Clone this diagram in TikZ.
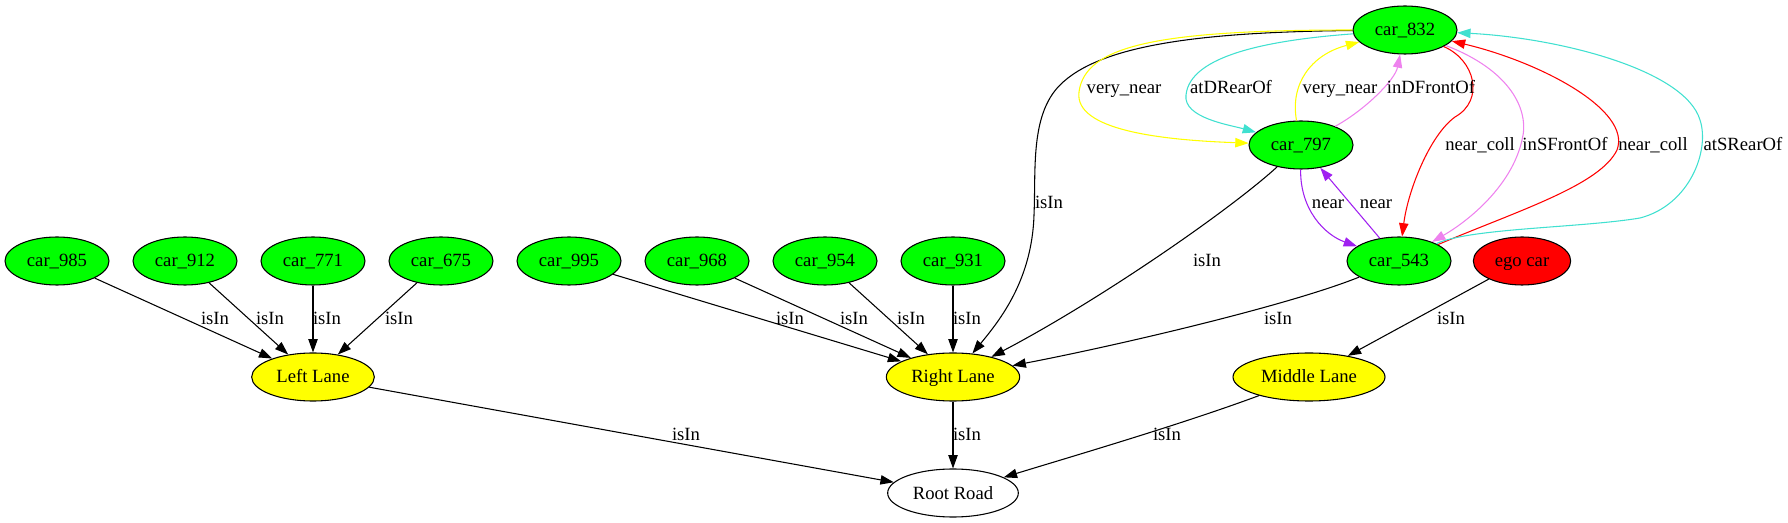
\documentclass[tikz,border=0pt]{standalone}
\usepackage{fontspec}
\setmainfont{Liberation Serif}
\usetikzlibrary{shapes.geometric,arrows.meta}
\definecolor{gvgreen}{HTML}{00FF00}
\definecolor{gvyellow}{HTML}{FFFF00}
\definecolor{gvred}{HTML}{FF0000}
\definecolor{gvturq}{HTML}{40E0D0}
\definecolor{gvviolet}{HTML}{EE82EE}
\definecolor{gvpurple}{HTML}{A020F0}
\begin{document}
\begin{tikzpicture}[x=0.75pt,y=-0.75pt,
  every node/.style={font=\fontsize{14pt}{16pt}\selectfont},
  gvnode/.style={ellipse, draw=black, line width=0.8pt, inner sep=0pt, minimum height=36pt, text height=10pt, text depth=1pt},
  car/.style={gvnode, fill=gvgreen, minimum width=78pt},
  lane/.style={gvnode, fill=gvyellow},
  e/.style={line width=0.8pt, -{Triangle[length=10pt,width=7pt]}},
  lbl/.style={anchor=base, inner sep=0pt}
]
\useasboundingbox (0,0) rectangle (1788,523);
% nodes
\node[car] (c832) at (1405,30) {car\_832};
\node[car] (c797) at (1301,145) {car\_797};
\node[car] (c543) at (1399,261) {car\_543};
\node[gvnode, fill=gvred, minimum width=73pt] (ego) at (1522,261) {ego car};
\node[car] (c985) at (57,261) {car\_985};
\node[car] (c912) at (185,261) {car\_912};
\node[car] (c771) at (313,261) {car\_771};
\node[car] (c675) at (441,261) {car\_675};
\node[car] (c995) at (569,261) {car\_995};
\node[car] (c968) at (697,261) {car\_968};
\node[car] (c954) at (825,261) {car\_954};
\node[car] (c931) at (953,261) {car\_931};
\node[lane, minimum width=92pt] (ll) at (313,377) {Left Lane};
\node[lane, minimum width=100pt] (rl) at (953,377) {Right Lane};
\node[lane, minimum width=114pt] (ml) at (1309,377) {Middle Lane};
\node[gvnode, fill=white, minimum width=98pt] (rr) at (953,493) {Root Road};

% straight isIn edges
\draw[e] (c985) -- (ll);
\draw[e] (c912) -- (ll);
\draw[e] (c771) -- (ll);
\draw[e] (c675) -- (ll);
\draw[e] (c995) -- (rl);
\draw[e] (c968) -- (rl);
\draw[e] (c954) -- (rl);
\draw[e] (c931) -- (rl);
\draw[e] (ego) -- (ml);
\draw[e] (ll) -- (rr);
\draw[e] (rl) -- (rr);
\draw[e] (ml) .. controls (1180,425) and (1060,460) .. (rr);

% curved isIn edges
\draw[e] (c832) .. controls (1200,32) and (1100,45) .. (1060,85)
  .. controls (1030,115) and (1036,170) .. (1034,215)
  .. controls (1032,280) and (1000,320) .. (rl);
\draw[e] (c797) .. controls (1230,210) and (1100,300) .. (rl);
\draw[e] (c543) .. controls (1290,305) and (1120,345) .. (rl);

% relation edges
\draw[e, gvyellow] (c832) .. controls (1160,30) and (1085,45) .. (1079,92)
  .. controls (1074,130) and (1160,140) .. (c797);
\draw[e, gvturq] (c832) .. controls (1270,40) and (1190,55) .. (1186,95)
  .. controls (1183,118) and (1230,125) .. (c797);
\draw[e, gvyellow] (c797) .. controls (1290,85) and (1310,55) .. (c832);
\draw[e, gvviolet] (c797) .. controls (1365,110) and (1395,80) .. (c832);
\draw[e, gvpurple] (c797) .. controls (1300,210) and (1325,235) .. (c543);
\draw[e, gvpurple] (c543) -- (c797);
\draw[e, gvred] (c832) .. controls (1475,60) and (1485,100) .. (1455,117)
  .. controls (1430,135) and (1408,190) .. (c543);
\draw[e, gvviolet] (c832) .. controls (1510,70) and (1530,110) .. (1522,140)
  .. controls (1512,185) and (1470,220) .. (c543);
\draw[e, gvred] (c543) .. controls (1520,210) and (1600,185) .. (1617,150)
  .. controls (1632,110) and (1540,62) .. (c832);
\draw[e, gvturq] (c543) .. controls (1470,228) and (1580,228) .. (1640,218)
  .. controls (1690,205) and (1710,150) .. (1700,120)
  .. controls (1685,70) and (1560,38) .. (c832);

% labels (baseline = visual centre + 7)
\node[lbl] (l1) at (1124,94) {very\_near};
\node[lbl] (l2) at (1231,94) {atDRearOf};
\node[lbl] (l3) at (1340,94) {very\_near};
\node[lbl] (l4) at (1431,94) {inDFrontOf};
\node[lbl] (l5) at (1049,209) {isIn};
\node[lbl] (l6) at (1328,209) {near};
\node[lbl] (l7) at (1376,209) {near};
\node[lbl] (l8) at (1480,151) {near\_coll};
\node[lbl] (l9) at (1565,151) {inSFrontOf};
\node[lbl] (l10) at (1653,151) {near\_coll};
\node[lbl] (l11) at (1743,151) {atSRearOf};
\node[lbl] (l12) at (1207,267) {isIn};
\node[lbl] (l13) at (215,325) {isIn};
\node[lbl] (l14) at (270,325) {isIn};
\node[lbl] (l15) at (327,325) {isIn};
\node[lbl] (l16) at (399,325) {isIn};
\node[lbl] (l17) at (790,325) {isIn};
\node[lbl] (l18) at (854,325) {isIn};
\node[lbl] (l19) at (911,325) {isIn};
\node[lbl] (l20) at (967,325) {isIn};
\node[lbl] (l21) at (1278,325) {isIn};
\node[lbl] (l22) at (1451,325) {isIn};
\node[lbl] (l23) at (686,441) {isIn};
\node[lbl] (l24) at (967,441) {isIn};
\node[lbl] (l25) at (1167,441) {isIn};
\end{tikzpicture}
\end{document}
